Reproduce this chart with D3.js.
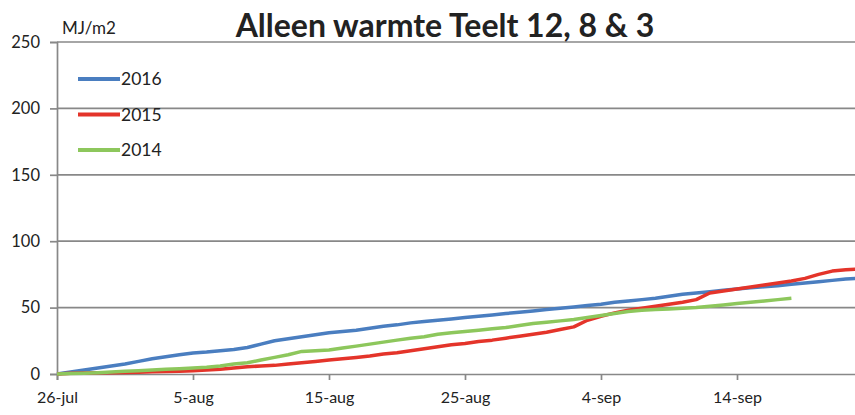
<html><head><title>Alleen warmte Teelt 12, 8 & 3</title>
<style>
    body {
        margin: 0;
        padding: 0;
        background: #ffffff;
        font-family: 'Lato', 'Liberation Sans', sans-serif;
    }
    #chart text {
        fill: #222;
    }
</style>
</head>
<body>
    <svg id="chart" width="855" height="415"></svg>

    <script src="https://d3js.org/d3.v7.min.js"></script>
    <script>
        // day 0 = 26 July, one value per day (cumulative MJ/m2)
        const startDate = new Date(2016, 6, 26);
        const series2016 = [0, 1.5, 3, 4.5, 6, 7.5, 9.5, 11.5, 13, 14.5, 15.8, 16.5, 17.5, 18.5, 20, 22.5, 25, 26.5, 28, 29.5,
            31, 32, 33, 34.5, 36, 37, 38.5, 39.5, 40.5, 41.5, 42.5, 43.5, 44.5, 45.5, 46.5, 47.5, 48.5, 49.5, 50.5, 51.5,
            52.5, 54, 55, 56, 57, 58.5, 60, 61, 62, 63, 64, 65, 65.7, 66.5, 67.5, 68.5, 69.5, 70.5, 71.5, 72];
        const series2015 = [0, 0.5, 0.8, 1, 1, 1.2, 1.4, 1.6, 1.8, 2, 2.5, 3, 3.5, 4.5, 5.5, 6, 6.5, 7.5, 8.5, 9.5,
            10.5, 11.5, 12.5, 13.5, 15, 16, 17.5, 19, 20.5, 22, 23, 24.5, 25.5, 27, 28.5, 30, 31.5, 33.5, 35.5, 40.5,
            43.5, 46, 48, 49.5, 51, 52.5, 54, 56, 61, 62.5, 64, 65.5, 67, 68.5, 70, 72, 75, 77.5, 78.5, 79];
        const series2014 = [0, 0.3, 0.6, 1, 1.5, 2, 2.5, 3, 3.5, 4, 4.5, 5, 6, 7.5, 8.5, 10.5, 12.5, 14.5, 17, 17.5,
            18, 19.5, 21, 22.5, 24, 25.5, 27, 28, 30, 31, 32, 33, 34, 35, 36.5, 38, 39, 40, 41, 42.5,
            44, 45.5, 47, 48, 48.5, 49, 49.5, 50, 51, 52, 53, 54, 55, 56, 57];

        const years = ["2016", "2015", "2014"];
        const colors = ["#4a7ec0", "#e4342a", "#8dc75c"];
        const allSeries = [series2016, series2015, series2014];

        const yTicks = [0, 50, 100, 150, 200, 250];
        const xTickLabels = ["26-jul", "5-aug", "15-aug", "25-aug", "4-sep", "14-sep"];
        const xTickDays = [0, 10, 20, 30, 40, 50];

        const plotLeft = 57, plotTop = 42, plotBottom = 374, pxPerDay = 13.6;

        const dayToDate = d => d3.timeDay.offset(startDate, d);

        const svg = d3.select("#chart");

        const x = d3.scaleTime()
            .domain([startDate, dayToDate(59)])
            .range([plotLeft, plotLeft + 59 * pxPerDay]);
        const y = d3.scaleLinear().domain([0, 250]).range([plotBottom, plotTop]);

        // horizontal gridlines
        svg.append("g")
            .selectAll("line")
            .data(yTicks.filter(t => t > 0))
            .join("line")
            .attr("x1", plotLeft)
            .attr("x2", 855)
            .attr("y1", d => y(d))
            .attr("y2", d => y(d))
            .attr("stroke", "#888")
            .attr("stroke-width", 1.7);

        // y axis
        const yAxis = svg.append("g")
            .attr("transform", `translate(${plotLeft},0)`)
            .call(d3.axisLeft(y).tickValues(yTicks).tickSize(7).tickPadding(10));
        yAxis.select(".domain").attr("stroke", "#888").attr("stroke-width", 1.7);
        yAxis.selectAll(".tick line").attr("stroke", "#888").attr("stroke-width", 1.7);
        yAxis.selectAll(".tick text")
            .attr("font-family", "Lato, sans-serif")
            .attr("font-size", 16.5)
            .attr("fill", "#222");

        // x axis
        const xAxis = svg.append("g")
            .attr("transform", `translate(0,${plotBottom})`)
            .call(d3.axisBottom(x)
                .tickValues(xTickDays.map(dayToDate))
                .tickFormat((d, i) => xTickLabels[i])
                .tickSize(6).tickPadding(12));
        xAxis.select(".domain").attr("stroke", "#888").attr("stroke-width", 1.7);
        xAxis.selectAll(".tick line").attr("stroke", "#888").attr("stroke-width", 1.7);
        xAxis.selectAll(".tick text")
            .attr("font-family", "Lato, sans-serif")
            .attr("font-size", 16)
            .attr("fill", "#222");

        // series lines
        const line = d3.line()
            .x((d, i) => x(dayToDate(i)))
            .y(d => y(d));

        svg.append("g")
            .selectAll("path")
            .data(allSeries)
            .join("path")
            .attr("fill", "none")
            .attr("stroke", (d, i) => colors[i])
            .attr("stroke-width", 3.5)
            .attr("stroke-linejoin", "round")
            .attr("d", line);

        // legend
        const legend = svg.append("g");
        years.forEach((yr, i) => {
            const ly = 79 + i * 35.5;
            legend.append("line")
                .attr("x1", 78).attr("x2", 120)
                .attr("y1", ly).attr("y2", ly)
                .attr("stroke", colors[i])
                .attr("stroke-width", 4);
            legend.append("text")
                .attr("x", 121).attr("y", ly + 6)
                .attr("font-size", 17.5)
                .text(yr);
        });

        // unit label
        svg.append("text")
            .attr("x", 62).attr("y", 34)
            .attr("font-size", 17)
            .text("MJ/m2");

        // title
        svg.append("text")
            .attr("x", 445).attr("y", 37)
            .attr("text-anchor", "middle")
            .attr("font-size", 32)
            .attr("font-weight", "bold")
            .attr("fill", "#111")
            .text("Alleen warmte Teelt 12, 8 & 3");
    </script>
</body>
</html>
